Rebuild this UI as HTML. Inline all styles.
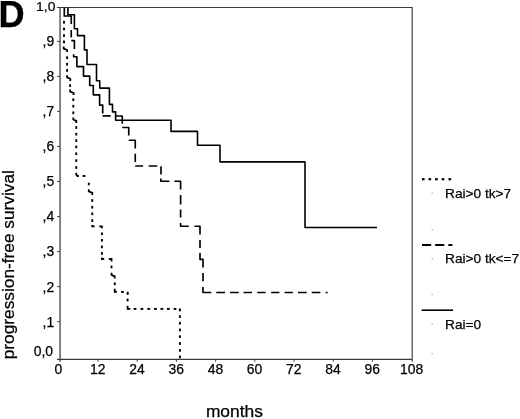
<!DOCTYPE html>
<html><head><meta charset="utf-8"><title>D</title>
<style>
html,body{margin:0;padding:0;background:#fff;}
body{width:520px;height:419px;overflow:hidden;}
svg{display:block;will-change:transform;}
text{font-family:"Liberation Sans",sans-serif;fill:#000;stroke:#000;stroke-width:0.25px;}
</style></head><body>
<svg width="520" height="419" viewBox="0 0 520 419">
<rect width="520" height="419" fill="#fff"/>
<path d="M57,7.5 H412.7 M57,359.3 H412.7 M412.2,7.5 V361.7" fill="none" stroke="#3c3c3c" stroke-width="1.15"/>
<path d="M60.05,7.5 V361.7" fill="none" stroke="#3c3c3c" stroke-width="1.25"/>
<line x1="57.2" y1="41.35" x2="60" y2="41.35" stroke="#3c3c3c" stroke-width="1"/>
<line x1="57.2" y1="76.39" x2="60" y2="76.39" stroke="#3c3c3c" stroke-width="1"/>
<line x1="57.2" y1="111.43" x2="60" y2="111.43" stroke="#3c3c3c" stroke-width="1"/>
<line x1="57.2" y1="146.47" x2="60" y2="146.47" stroke="#3c3c3c" stroke-width="1"/>
<line x1="57.2" y1="181.51" x2="60" y2="181.51" stroke="#3c3c3c" stroke-width="1"/>
<line x1="57.2" y1="216.55" x2="60" y2="216.55" stroke="#3c3c3c" stroke-width="1"/>
<line x1="57.2" y1="251.59" x2="60" y2="251.59" stroke="#3c3c3c" stroke-width="1"/>
<line x1="57.2" y1="286.63" x2="60" y2="286.63" stroke="#3c3c3c" stroke-width="1"/>
<line x1="57.2" y1="321.67" x2="60" y2="321.67" stroke="#3c3c3c" stroke-width="1"/>
<line x1="98.00" y1="359.3" x2="98.00" y2="361.7" stroke="#3c3c3c" stroke-width="1"/>
<line x1="137.20" y1="359.3" x2="137.20" y2="361.7" stroke="#3c3c3c" stroke-width="1"/>
<line x1="176.40" y1="359.3" x2="176.40" y2="361.7" stroke="#3c3c3c" stroke-width="1"/>
<line x1="215.60" y1="359.3" x2="215.60" y2="361.7" stroke="#3c3c3c" stroke-width="1"/>
<line x1="254.80" y1="359.3" x2="254.80" y2="361.7" stroke="#3c3c3c" stroke-width="1"/>
<line x1="294.00" y1="359.3" x2="294.00" y2="361.7" stroke="#3c3c3c" stroke-width="1"/>
<line x1="333.20" y1="359.3" x2="333.20" y2="361.7" stroke="#3c3c3c" stroke-width="1"/>
<line x1="372.40" y1="359.3" x2="372.40" y2="361.7" stroke="#3c3c3c" stroke-width="1"/>
<path d="M67.9,7.5 V14.75 H74.4 V28.75 H77.5 V35.6 H84.4 V49.9 H87.0 V64.5 H96.5 V80.7 H99.75 V88.1 H109.4 V104.4 H112.5 V111.9 H115.6 V120.3 H171 V131.4 H197.5 V145.3 H220 V161.9 H305 V227.5 H377" fill="none" stroke="#000" stroke-width="1.6" stroke-linejoin="round"/>
<path d="M64.3,7.5 V16 M63.5,16 H71.25 V24 M71.25,30 V37.5 M71.25,40.6 H74.4 V49 M73.6,54.3 V56.7 H76.9 V66.6 H83.5 V76.1 H89.7 V85.5 H93.3 V94.8 H99.6 V105.1 H102.7 V113.4 M102.6,115.8 H110.7 M115.6,116 H122.25 V123.75 M122.25,127.5 H128.75 V135.6 M128.75,140.25 H135.25 V148.5 M135.25,153.75 V161.9 M135.25,166 H143.1 M148.75,166 H157.25 M161,166.25 V174.4 M160.8,178.6 V181.25 H169.4 M174.4,181.25 H180.6 V189.4 M180.6,195 V204.4 M180.6,209.4 V217.5 M180.6,223 V226.25 H188.75 M194.4,226.25 H200 V234.4 M200,240 V248 M200,253 V259.4 H203 V267.5 M203,273 V281.25 M203,287 V292.5 H211.3 M216.3,292.5 H225 M230,292.5 H238.75 M243.6,292.5 H252 M257.3,292.5 H265.6 M271.2,292.5 H279.4 M284.6,292.5 H292.9 M298,292.5 H306.7 M311.7,292.5 H320.4 M325.6,292.5 H327.6" fill="none" stroke="#000" stroke-width="1.65" stroke-linejoin="round"/>
<rect x="63.05" y="20.90" width="1.9" height="2.7" fill="#000"/>
<rect x="63.05" y="27.65" width="1.9" height="2.7" fill="#000"/>
<rect x="63.05" y="34.25" width="1.9" height="2.7" fill="#000"/>
<rect x="63.05" y="40.55" width="1.9" height="2.7" fill="#000"/>
<rect x="66.15" y="56.35" width="1.9" height="2.7" fill="#000"/>
<rect x="66.15" y="62.85" width="1.9" height="2.7" fill="#000"/>
<rect x="66.15" y="69.05" width="1.9" height="2.7" fill="#000"/>
<rect x="69.15" y="84.25" width="1.9" height="2.7" fill="#000"/>
<rect x="72.35" y="98.35" width="1.9" height="2.7" fill="#000"/>
<rect x="72.35" y="104.85" width="1.9" height="2.7" fill="#000"/>
<rect x="72.35" y="111.45" width="1.9" height="2.7" fill="#000"/>
<rect x="75.30" y="126.15" width="1.9" height="2.7" fill="#000"/>
<rect x="75.30" y="132.85" width="1.9" height="2.7" fill="#000"/>
<rect x="75.30" y="139.25" width="1.9" height="2.7" fill="#000"/>
<rect x="75.30" y="145.55" width="1.9" height="2.7" fill="#000"/>
<rect x="75.30" y="152.40" width="1.9" height="2.7" fill="#000"/>
<rect x="75.30" y="159.25" width="1.9" height="2.7" fill="#000"/>
<rect x="75.30" y="166.15" width="1.9" height="2.7" fill="#000"/>
<rect x="82.60" y="175.05" width="2.8" height="1.9" fill="#000"/>
<rect x="87.85" y="182.65" width="1.9" height="2.7" fill="#000"/>
<rect x="91.30" y="199.15" width="1.9" height="2.7" fill="#000"/>
<rect x="91.30" y="205.85" width="1.9" height="2.7" fill="#000"/>
<rect x="91.30" y="212.45" width="1.9" height="2.7" fill="#000"/>
<rect x="91.30" y="219.25" width="1.9" height="2.7" fill="#000"/>
<rect x="100.95" y="232.45" width="1.9" height="2.7" fill="#000"/>
<rect x="100.95" y="238.95" width="1.9" height="2.7" fill="#000"/>
<rect x="100.95" y="245.55" width="1.9" height="2.7" fill="#000"/>
<rect x="100.95" y="252.05" width="1.9" height="2.7" fill="#000"/>
<rect x="110.55" y="265.55" width="1.9" height="2.7" fill="#000"/>
<rect x="113.80" y="282.40" width="1.9" height="2.7" fill="#000"/>
<rect x="121.10" y="290.95" width="2.8" height="1.9" fill="#000"/>
<rect x="126.65" y="298.65" width="1.9" height="2.7" fill="#000"/>
<rect x="126.70" y="291.80" width="2.0" height="3.0" fill="#000"/>
<rect x="133.60" y="307.95" width="2.8" height="1.9" fill="#000"/>
<rect x="140.50" y="307.95" width="2.8" height="1.9" fill="#000"/>
<rect x="147.35" y="307.95" width="2.8" height="1.9" fill="#000"/>
<rect x="154.00" y="307.95" width="2.8" height="1.9" fill="#000"/>
<rect x="160.50" y="307.95" width="2.8" height="1.9" fill="#000"/>
<rect x="167.00" y="307.95" width="2.8" height="1.9" fill="#000"/>
<rect x="173.60" y="307.95" width="2.8" height="1.9" fill="#000"/>
<rect x="178.90" y="308.50" width="2.0" height="2.8" fill="#000"/>
<rect x="178.95" y="315.25" width="1.9" height="2.7" fill="#000"/>
<rect x="178.95" y="321.85" width="1.9" height="2.7" fill="#000"/>
<rect x="178.95" y="328.55" width="1.9" height="2.7" fill="#000"/>
<rect x="178.95" y="335.25" width="1.9" height="2.7" fill="#000"/>
<rect x="178.95" y="342.15" width="1.9" height="2.7" fill="#000"/>
<rect x="178.95" y="349.05" width="1.9" height="2.7" fill="#000"/>
<rect x="178.95" y="355.55" width="1.9" height="2.7" fill="#000"/>
<path d="M63.7,46.50 V48.60 L67.1,50.00 V52.10 M67.1,75.30 V77.40 L70.25,78.80 V80.90 M70.1,89.50 V91.60 L73.6,93.00 V95.10 M73.3,117.40 V119.50 L76.3,120.90 V123.00 M88.8,189.30 V191.40 L92.3,192.80 V194.90 M111.5,272.80 V274.90 L114.75,276.30 V278.40 M76.25,172.8 V174.6 L77.5,176 H78.9 M92.25,225 V226.4 H94.7 M99.3,226.4 H101.9 V228.3 M101.9,257.4 V259 H104.2 M108.8,259 H111.5 V261.6 M114.75,288.8 V291.9 H116.9 M127.6,305.8 V308.9 H130.4" fill="none" stroke="#000" stroke-width="1.8"/>
<rect x="422.00" y="178.10" width="2.6" height="2.2" fill="#000"/>
<rect x="428.50" y="178.10" width="2.6" height="2.2" fill="#000"/>
<rect x="435.10" y="178.10" width="2.6" height="2.2" fill="#000"/>
<rect x="441.70" y="178.10" width="2.6" height="2.2" fill="#000"/>
<rect x="448.50" y="178.10" width="2.6" height="2.2" fill="#000"/>
<path d="M422,245 H431.2 M435.2,245 H444.3 M448.3,245 H452.4" stroke="#000" stroke-width="1.8" fill="none"/>
<path d="M421.6,310.2 H453" stroke="#000" stroke-width="1.6" fill="none"/>
<rect x="431.6" y="192.7" width="1.2" height="1.2" fill="#9a9a9a"/>
<rect x="431.6" y="229.0" width="1.2" height="1.2" fill="#9a9a9a"/>
<rect x="431.6" y="258.1" width="1.2" height="1.2" fill="#9a9a9a"/>
<rect x="431.6" y="293.9" width="1.2" height="1.2" fill="#9a9a9a"/>
<rect x="431.6" y="323.4" width="1.2" height="1.2" fill="#9a9a9a"/>
<rect x="431.6" y="353.0" width="1.2" height="1.2" fill="#9a9a9a"/>
<text transform="translate(55.4,10.6) scale(1,0.86)" text-anchor="end" font-size="13.9">1,0</text>
<text x="54.2" y="46.25" text-anchor="end" font-size="13.9">,9</text>
<text x="54.2" y="81.29" text-anchor="end" font-size="13.9">,8</text>
<text x="54.2" y="116.33" text-anchor="end" font-size="13.9">,7</text>
<text x="54.2" y="151.37" text-anchor="end" font-size="13.9">,6</text>
<text x="54.2" y="186.41" text-anchor="end" font-size="13.9">,5</text>
<text x="54.2" y="221.45" text-anchor="end" font-size="13.9">,4</text>
<text x="54.2" y="256.49" text-anchor="end" font-size="13.9">,3</text>
<text x="54.2" y="291.53" text-anchor="end" font-size="13.9">,2</text>
<text x="54.2" y="326.57" text-anchor="end" font-size="13.9">,1</text>
<text x="53.0" y="355.5" text-anchor="end" font-size="13.9">0,0</text>
<text x="58.40" y="374.3" text-anchor="middle" font-size="13.9">0</text>
<text x="97.80" y="374.3" text-anchor="middle" font-size="13.9">12</text>
<text x="137.00" y="374.3" text-anchor="middle" font-size="13.9">24</text>
<text x="176.20" y="374.3" text-anchor="middle" font-size="13.9">36</text>
<text x="215.40" y="374.3" text-anchor="middle" font-size="13.9">48</text>
<text x="254.60" y="374.3" text-anchor="middle" font-size="13.9">60</text>
<text x="293.80" y="374.3" text-anchor="middle" font-size="13.9">72</text>
<text x="333.00" y="374.3" text-anchor="middle" font-size="13.9">84</text>
<text x="372.20" y="374.3" text-anchor="middle" font-size="13.9">96</text>
<text x="411.60" y="374.3" text-anchor="middle" font-size="13.9">108</text>
<text x="445" y="198.4" font-size="13.7">Rai&gt;0 tk&gt;7</text>
<text x="445" y="263.3" font-size="13.7">Rai&gt;0 tk&lt;=7</text>
<text x="445" y="329.3" font-size="13.7">Rai=0</text>
<text x="234.4" y="416.8" text-anchor="middle" font-size="17.4">months</text>
<text transform="translate(14.35,264.7) rotate(-90)" text-anchor="middle" font-size="17.3">progression-free survival</text>
<text x="-1.5" y="26.9" font-size="36.2" font-weight="bold">D</text>
</svg>
</body></html>
